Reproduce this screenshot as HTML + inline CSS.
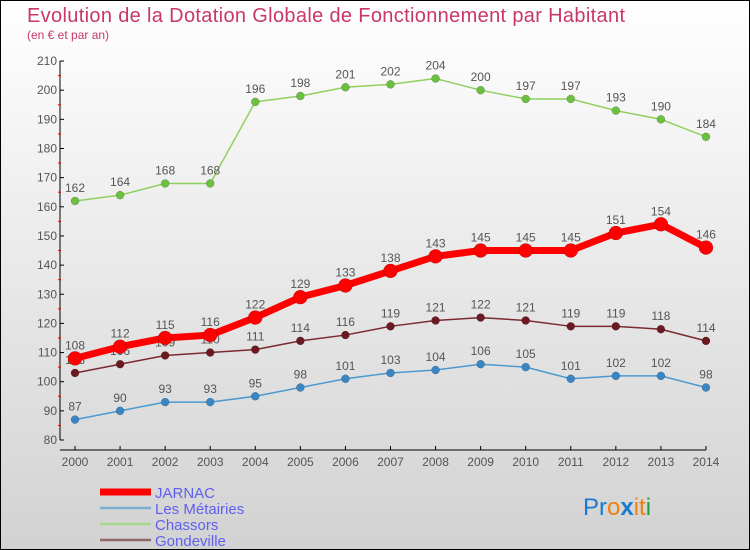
<!DOCTYPE html>
<html><head><meta charset="utf-8"><style>
body{margin:0;}
svg{display:block;font-family:"Liberation Sans",sans-serif;}
</style></head><body>
<svg id="c" width="750" height="550" xmlns="http://www.w3.org/2000/svg">
<defs><linearGradient id="bg" x1="0" y1="0" x2="0" y2="1"><stop offset="0" stop-color="#ffffff"/><stop offset="1" stop-color="#d2d2d2"/></linearGradient></defs>
<rect x="0.5" y="0.5" width="749" height="549" fill="url(#bg)" stroke="#000"/>
<text x="27" y="22" font-size="20" fill="#c8366a" textLength="598">Evolution de la Dotation Globale de Fonctionnement par Habitant</text>
<text x="27" y="39" font-size="12" fill="#c8366a">(en € et par an)</text>
<g id="axes"></g><g id="series"></g><g id="legend"></g>
<text x="583" y="515" font-size="24"><tspan fill="#1a7ad0">Pr</tspan><tspan fill="#f08010">o</tspan><tspan fill="#1a7ad0" font-weight="bold">x</tspan><tspan fill="#f08010">it</tspan><tspan fill="#20a040">i</tspan></text>
</svg>
<script>
const years=[2000,2001,2002,2003,2004,2005,2006,2007,2008,2009,2010,2011,2012,2013,2014];
const jarnac=[108,112,115,116,122,129,133,138,143,145,145,145,151,154,146];
const metairies=[87,90,93,93,95,98,101,103,104,106,105,101,102,102,98];
const chassors=[162,164,168,168,196,198,201,202,204,200,197,197,193,190,184];
const gondeville=[103,106,109,110,111,114,116,119,121,122,121,119,119,118,114];
const yTicks=[80,90,100,110,120,130,140,150,160,170,180,190,200,210];
const NS="http://www.w3.org/2000/svg";
const x=i=>75+i*45.07;
const y=v=>440-(v-80)*29.15/10;
function mk(t,a,p){const e=document.createElementNS(NS,t);for(const k in a)e.setAttribute(k,a[k]);p.appendChild(e);return e;}
const ax=document.getElementById('axes');
let l=mk('line',{x1:60,y1:y(210),x2:60,y2:y(80),stroke:'#000'},ax);


l=mk('line',{x1:60,y1:450,x2:x(14),y2:450,stroke:'#000'},ax);


yTicks.forEach(v=>{
 mk('line',{x1:60,y1:y(v),x2:64,y2:y(v),stroke:'#000'},ax);
 if(v<210)mk('line',{x1:58,y1:y(v+5),x2:61,y2:y(v+5),stroke:'#e00'},ax);
 const t=mk('text',{x:57,y:y(v)+4,'font-size':12,'text-anchor':'end',fill:'#555'},ax);t.textContent=v;
 
 
});
years.forEach((yr,i)=>{
 mk('line',{x1:x(i),y1:446,x2:x(i),y2:450,stroke:'#000'},ax);
 const t=mk('text',{x:x(i),y:466,'font-size':12,'text-anchor':'middle',fill:'#555'},ax);t.textContent=yr;
 
 
});
const sg=document.getElementById('series');
const series=[
 {name:'les-metairies',d:metairies,c:'#4a9ad0',pc:'#3a86c4',w:1.5,r:4},
 {name:'chassors',d:chassors,c:'#8fd060',pc:'#6cc040',w:1.5,r:4},
 {name:'gondeville',d:gondeville,c:'#7a2a30',pc:'#6a1a20',w:1.5,r:4},
 {name:'jarnac',d:jarnac,c:'#f00',pc:'#f00',w:7,r:7}];
series.forEach(s=>{
 const g=mk('g',{},sg);
 
 
 const p=mk('polyline',{points:s.d.map((v,i)=>x(i)+','+y(v)).join(' '),fill:'none',stroke:s.c,'stroke-width':s.w,'stroke-linejoin':'round'},g);
 
 
 s.d.forEach((v,i)=>{
  const c=mk('circle',{cx:x(i),cy:y(v),r:s.r,fill:s.pc,stroke:'rgba(0,0,0,0.3)','stroke-width':0.5},g);
  
  
  const t=mk('text',{x:x(i),y:y(v)-9,'font-size':12,'text-anchor':'middle',fill:'#555'},g);t.textContent=v;
  
  
 });
});
const lg=document.getElementById('legend');
const leg=[['JARNAC','#f00',7],['Les Métairies','#7aaed0',2.5],['Chassors','#a8d890',2.5],['Gondeville','#906868',2.5]];
leg.forEach((e,i)=>{
 const yy=492+i*16;
 const g=mk('g',{},lg);
 
 
 mk('line',{x1:100,y1:yy,x2:151,y2:yy,stroke:e[1],'stroke-width':e[2]},g);
 const t=mk('text',{x:155,y:yy+6,'font-size':15,fill:'#6060f0'},g);t.textContent=e[0];
});
</script>
</body></html>
